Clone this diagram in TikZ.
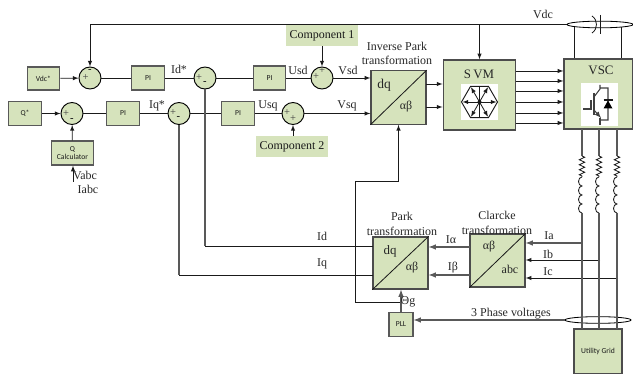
\documentclass[tikz,border=0pt]{standalone}
\usepackage{fontspec}
\setmainfont{Liberation Serif}
\setsansfont{Carlito}
\usetikzlibrary{shapes.geometric,decorations.pathmorphing}
\definecolor{boxgreen}{HTML}{D6E3BC}
\definecolor{wirecol}{HTML}{1A1A1A}
\tikzset{
  block/.style={draw=black!65, line width=1.1pt, fill=boxgreen, inner sep=0pt, font=\sffamily\fontsize{6.5}{7.5}\selectfont, align=center},
  pi/.style={block, minimum width=.98cm, minimum height=.72cm},
  sumnode/.style={circle, draw=black, line width=.8pt, fill=boxgreen, minimum size=.66cm, inner sep=0pt},
  transform/.style={block, draw=black!70, minimum width=1.65cm},
  bigblock/.style={block, draw=black!70, minimum width=2.18cm, minimum height=2.1cm},
  comp/.style={fill=boxgreen, inner sep=0pt, minimum width=2.16cm, minimum height=.63cm, font=\fontsize{10.2}{12}\selectfont},
  txt/.style={inner sep=0pt, text=black!85, font=\fontsize{10.2}{12}\selectfont},
  sgn/.style={inner sep=0pt, font=\fontsize{9}{9}\selectfont, text=black!75},
  minus/.style={inner sep=0pt, font=\bfseries\fontsize{9}{9}\selectfont},
  icon/.style={fill=white, inner sep=0pt},
  feedback/.style={draw=black!65, line width=1.1pt},
}
\begin{document}
\begin{tikzpicture}[x=.03cm, y=-.03cm, ->, >=latex, line width=.7pt, wirecol]
\useasboundingbox (0,0) rectangle (633,374);
\node[block, minimum width=.98cm, minimum height=.69cm] (vdcref) at (43.5,78.5) {Vdc*};
\node[sumnode] (sum1) at (90,78) {};
\node[pi] (pi1) at (148,78) {PI};
\node[sumnode] (sum2) at (205,78) {};
\node[pi] (pi2) at (269.5,78) {PI};
\node[sumnode] (sum3) at (322,78) {};
\node[comp] (comp1) at (322,35.5) {Component 1};
\node[block, minimum width=.98cm, minimum height=.72cm] (qref) at (25,113.5) {Q*};
\node[sumnode] (sum4) at (72,113.5) {};
\node[pi] (pi3) at (123,113.5) {PI};
\node[sumnode] (sum5) at (179,113.5) {};
\node[pi] (pi4) at (238,113.5) {PI};
\node[sumnode] (sum6) at (293,113.5) {};
\node[comp] (comp2) at (292,146.5) {Component 2};
\node[block, minimum width=1.25cm, minimum height=.72cm] (qcalc) at (72.5,153) {Q\\[-1pt]Calculator};
\node[transform, minimum height=1.6cm] (ipark) at (398.5,97.5) {};
\node[bigblock] (svm) at (479.5,95) {};
\node[block, draw=black!70, minimum width=2.07cm, minimum height=2.1cm] (vsc) at (598.5,94) {};
\node[transform, minimum height=1.56cm] (park) at (400.5,263) {};
\node[transform, minimum height=1.59cm] (clarke) at (497.5,260.5) {};
\node[block, minimum width=.72cm, minimum height=.7cm] (pll) at (401,324.5) {PLL};
\node[block, draw=black!70, minimum width=1.44cm, minimum height=1.35cm] (grid) at (598,351.5) {Utility Grid};
\node[ellipse, draw=black, minimum width=1.98cm, minimum height=.2cm, inner sep=0pt] (dclink) at (600,24.5) {};
\node[ellipse, draw=black, minimum width=1.98cm, minimum height=.2cm, inner sep=0pt] (ring) at (598,320) {};
\node[icon, minimum width=1.11cm, minimum height=1.08cm] (svmicon) at (479.5,102) {};
\node[icon, minimum width=1.11cm, minimum height=1.29cm] (vscicon) at (599.5,104.5) {};

\draw[-] (ipark.south west) -- (ipark.north east);
\draw[-] (park.south west) -- (park.north east);
\draw[-] (clarke.south west) -- (clarke.north east);

\draw (vdcref) -- (sum1);
\draw[-] (sum1) -- (pi1);
\draw[-] (pi1) -- (sum2);
\draw[-] (sum2) -- (pi2);
\draw[-] (pi2) -- (sum3);
\draw (comp1.south -| sum3) -- (sum3);
\draw (qref) -- (sum4);
\draw[-] (sum4) -- (pi3);
\draw[-] (pi3) -- (sum5);
\draw[-] (sum5) -- (pi4);
\draw[-] (pi4) -- (sum6);
\draw (comp2.north -| sum6) -- (sum6);
\draw (qcalc) -- (sum4);
\coordinate (vabcend) at (73,182);
\draw (vabcend) -- (vabcend |- qcalc.south);
\draw (sum3) -- (sum3 -| ipark.west);
\draw (sum6) -- (sum6 -| ipark.west);
\coordinate (svmin1) at (426,84);
\coordinate (svmin2) at (426,107);
\draw (svmin1) -- (svmin1 -| svm.west);
\draw (svmin2) -- (svmin2 -| svm.west);
\foreach \y in {71,81,91,102,113,123} {
  \coordinate (out\y) at (516,\y);
  \draw (out\y) -- (out\y -| vsc.west);
}
\draw (dclink.west) -| (sum1);
\draw (svm.north |- dclink) -- (svm.north);
\coordinate (dcp) at (574,27);
\coordinate (dcn) at (621,27);
\draw[-] (dcp) -- (dcp |- vsc.north);
\draw[-] (dcn) -- (dcn |- vsc.north);
\coordinate (capa) at (600,15);
\coordinate (capb) at (600,34);
\coordinate (capc) at (592,16);
\coordinate (capd) at (592,33);
\draw[-] (capa) -- (capb);
\draw[-] (capc) .. controls (598,20) and (598,29) .. (capd);

\coordinate (idin) at (373,246);
\coordinate (iqin) at (373,275);
\coordinate (idturn) at (205,246);
\coordinate (iqturn) at (179,275);
\draw[-, feedback] (sum2) -- (idturn);
\draw[-, feedback] (sum5) -- (iqturn);
\draw[-] (idturn) -- (idin);
\draw[-] (iqturn) -- (iqin);
\coordinate (thj) at (401,302);
\coordinate (thb) at (355,181);
\draw (thj) -| (thb) -| (ipark.south);
\draw[feedback] (pll) -- (pll |- park.south);
\coordinate (ialpha) at (470,247);
\coordinate (ibeta) at (470,275);
\draw[feedback] (ialpha) -- (ialpha -| park.east);
\draw[feedback] (ibeta) -- (ibeta -| park.east);
\coordinate (ia) at (582,243);
\coordinate (ib) at (600,260);
\coordinate (ic) at (618,278);
\draw[feedback] (ia) -- (ia -| clarke.east);
\draw (ib) -- (ib -| clarke.east);
\draw (ic) -- (ic -| clarke.east);
\draw[feedback] (ring.west) -- (ring.west -| pll.east);

\foreach \n/\x in {a/582,b/599,c/617} {
  \coordinate (top\n) at (\x,129);
  \coordinate (bot\n) at (\x,329);
  \coordinate (rs\n) at (\x,156);
  \coordinate (re\n) at (\x,177);
  \coordinate (ls\n) at (\x,213);
  \draw[-, feedback] (top\n) -- (rs\n);
  \draw[-, decorate, decoration={zigzag, amplitude=.8mm, segment length=1.5mm}] (rs\n) -- (re\n);
  \draw[-] (re\n) arc (-90:-270:3.5 and 4.5) arc (-90:-270:3.5 and 4.5) arc (-90:-270:3.5 and 4.5) arc (-90:-270:3.5 and 4.5);
  \draw[-, feedback] (ls\n) -- (bot\n);
}

\foreach \a in {0,60,...,300} \draw (svmicon.center) -- +(\a:17);
\foreach \a in {90,270} \draw[-] (svmicon.center) -- +(\a:15.5);
\draw[-, line width=.8pt] (svmicon.center) +(0:18) -- +(60:18) -- +(120:18) -- +(180:18) -- +(240:18) -- +(300:18) -- cycle;
\fill (svmicon.center) circle (2);

\draw[-, line width=.9pt, black!75] (583,109) -- (591,109) -- (591,100);
\draw[-, line width=1.2pt, black!75] (594,93) -- (594,115);
\draw[-, line width=.9pt, black!75] (594,97) -- (600,89) -- (600,85) (600,88) -- (608,88) -- (608,120) -- (600,120);
\draw[line width=.9pt, black!75] (594,110) -- (601,118);
\draw[-, line width=.9pt, black!75] (600,118) -- (600,125);
\fill[black] (603.5,108.5) -- (612.5,108.5) -- (608,100.5) -- cycle;
\draw[-, line width=.9pt] (603.5,100) -- (612.5,100);

\node[txt] (lblidref) at (179,69) {Id*};
\node[txt] (lblusd) at (298,70) {Usd};
\node[txt] (lblvsd) at (348,70) {Vsd};
\node[txt] (lbliqref) at (157,106) {Iq*};
\node[txt] (lblusq) at (268,106) {Usq};
\node[txt] (lblvsq) at (347,106) {Vsq};
\node[txt] (lblvabc) at (85,175) {Vabc};
\node[txt] (lbliabc) at (88,189) {Iabc};
\node[txt] (lblvdc) at (543,14) {Vdc};
\node[txt] (lblip1) at (397,46) {Inverse Park};
\node[txt] (lblip2) at (397,60.5) {transformation};
\node[txt, font=\fontsize{11.5}{12}\selectfont] (lbldq1) at (384,85) {dq};
\node[txt] (lblab1) at (406,107) {αβ};
\node[txt, font=\fontsize{11}{12}\selectfont] (lblsvm) at (479,74) {S\,VM};
\node[txt, font=\fontsize{11}{12}\selectfont] (lblvsc) at (601,70) {VSC};
\node[txt] (lblpark1) at (402,216) {Park};
\node[txt] (lblpark2) at (402,231) {transformation};
\node[txt] (lblcl1) at (497,215) {Clarcke};
\node[txt] (lblcl2) at (497,230) {transformation};
\node[txt, font=\fontsize{11}{12}\selectfont] (lbldq2) at (390,251) {dq};
\node[txt] (lblab2) at (412,268) {αβ};
\node[txt] (lblab3) at (489,247) {αβ};
\node[txt] (lblabc) at (510,269) {abc};
\node[txt] (lblid) at (322,236) {Id};
\node[txt] (lbliq) at (322,264) {Iq};
\node[txt] (lblialpha) at (451,240) {Iα};
\node[txt] (lblibeta) at (453,268) {Iβ};
\node[txt] (lblia) at (549,236) {Ia};
\node[txt] (lblib) at (548,254) {Ib};
\node[txt] (lblic) at (548,272) {Ic};
\node[txt] (lbltheta) at (408,302) {Θg};
\node[txt] (lbl3ph) at (511,314) {3 Phase voltages};

\node[sgn] (s1p) at (85.5,78) {+};
\node[minus] (s1m) at (90,71) {-};
\node[sgn] (s2p) at (199,78) {+};
\node[minus] (s2m) at (205,83) {-};
\node[sgn] (s3p) at (316,77) {+};
\node[sgn] (s3q) at (322,71) {+};
\node[sgn] (s4p) at (66,114) {+};
\node[minus] (s4m) at (72,120) {-};
\node[sgn] (s5p) at (173,113) {+};
\node[minus] (s5m) at (178.5,118) {-};
\node[sgn] (s6p) at (287,113) {+};
\node[sgn] (s6q) at (293,119) {+};
\end{tikzpicture}
\end{document}
